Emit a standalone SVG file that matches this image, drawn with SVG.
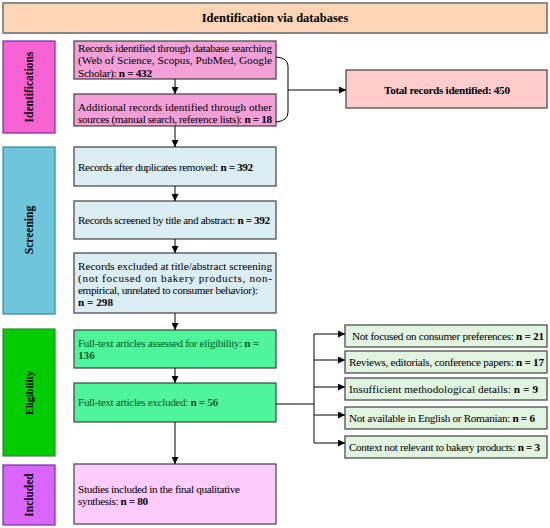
<svg xmlns="http://www.w3.org/2000/svg" width="550" height="528" viewBox="0 0 550 528">
<defs>
<marker id="ah" viewBox="0 0 8 8" refX="8" refY="4" markerWidth="7" markerHeight="7" markerUnits="userSpaceOnUse" orient="auto">
<path d="M0,0 L8,4 L0,8 z" fill="#000"/>
</marker>
</defs>
<style>
text{font-family:"Liberation Serif","DejaVu Serif",serif;font-size:11.2px;fill:#000}
.b{font-weight:bold}
.lab{font-weight:bold;font-size:11.5px;text-anchor:middle}
.box{stroke:#404040;stroke-width:1.2}
.g text{fill:#0f5a2a}
.ln{fill:none;stroke:#000;stroke-width:1}
</style>
<rect width="550" height="528" fill="#fff"/>
<g id="title">
<rect x="3" y="3" width="544" height="30" fill="#fcd5b4" stroke="#7f7f7f" stroke-width="1.8"/>
<text x="275" y="21.5" class="b" text-anchor="middle" style="font-size:12.5px">Identification via databases</text>
</g>
<g id="lab-identifications">
<rect x="3" y="41" width="52" height="92" fill="#f763d3" stroke="#7030a0" stroke-width="1.2"/>
<text class="lab" x="29" y="91" transform="rotate(-90 29 87)">Identifications</text>
</g>
<g id="lab-screening">
<rect x="3" y="147" width="52" height="167" fill="#6fc5db" stroke="#31859c" stroke-width="1.2"/>
<text class="lab" x="29" y="234" transform="rotate(-90 29 230)">Screening</text>
</g>
<g id="lab-eligibility">
<rect x="3" y="329" width="52" height="127" fill="#00cc00" stroke="#2e8b2e" stroke-width="1.2"/>
<text class="lab" x="29" y="397" style="font-size:10.5px" textLength="44" transform="rotate(-90 29 393)">Eligibility</text>
</g>
<g id="lab-included">
<rect x="3" y="465" width="52" height="60" fill="#d966ff" stroke="#7030a0" stroke-width="1.2"/>
<text class="lab" x="29" y="499" transform="rotate(-90 29 495)">Included</text>
</g>
<g id="n-db">
<rect class="box" x="74" y="41" width="202" height="38" fill="#f3a0d8"/>
<text x="78" y="51.5" textLength="194" lengthAdjust="spacing">Records identified through database searching</text>
<text x="78" y="64" textLength="194" lengthAdjust="spacing">(Web of Science, Scopus, PubMed, Google</text>
<text x="78" y="76.5" textLength="74" lengthAdjust="spacing">Scholar): <tspan class="b">n = 432</tspan></text>
</g>
<g id="n-other">
<rect class="box" x="74" y="94" width="202" height="32" fill="#f3a0d8"/>
<text x="78" y="110.5" textLength="194" lengthAdjust="spacing">Additional records identified through other</text>
<text x="78" y="122.5" textLength="194" lengthAdjust="spacing">sources (manual search, reference lists): <tspan class="b">n = 18</tspan></text>
</g>
<g id="n-total">
<rect class="box" x="346" y="70" width="201" height="38" fill="#ffcccc"/>
<text x="447" y="93.5" class="b" text-anchor="middle" textLength="126" lengthAdjust="spacing">Total records identified: 450</text>
</g>
<g id="n-dup">
<rect class="box" x="74" y="147" width="202" height="39" fill="#dbeef4"/>
<text x="78" y="170.5" textLength="175" lengthAdjust="spacing">Records after duplicates removed: <tspan class="b">n = 392</tspan></text>
</g>
<g id="n-screened">
<rect class="box" x="74" y="201" width="202" height="38" fill="#dbeef4"/>
<text x="78" y="223.5" textLength="192" lengthAdjust="spacing">Records screened by title and abstract: <tspan class="b">n = 392</tspan></text>
</g>
<g id="n-excl1">
<rect class="box" x="74" y="253" width="202" height="60" fill="#dbeef4"/>
<text x="78" y="269.5" textLength="194" lengthAdjust="spacing">Records excluded at title/abstract screening</text>
<text x="78" y="281.5" textLength="194" lengthAdjust="spacing">(not focused on bakery products, non-</text>
<text x="78" y="293.5" textLength="180" lengthAdjust="spacing">empirical, unrelated to consumer behavior):</text>
<text x="78" y="306" class="b">n = 298</text>
</g>
<g id="n-full" class="g">
<rect class="box" x="74" y="330" width="202" height="38" fill="#4ff59a"/>
<text x="78" y="346.5" textLength="181" lengthAdjust="spacing">Full-text articles assessed for eligibility: <tspan class="b">n =</tspan></text>
<text x="78" y="358.5" class="b">136</text>
</g>
<g id="n-fullexcl" class="g">
<rect class="box" x="74" y="383" width="202" height="39" fill="#4ff59a"/>
<text x="78" y="405.5" textLength="140" lengthAdjust="spacing">Full-text articles excluded: <tspan class="b">n = 56</tspan></text>
</g>
<g id="n-incl">
<rect class="box" x="74" y="464" width="202" height="60" fill="#ffccff"/>
<text x="78" y="492.5" textLength="162" lengthAdjust="spacing">Studies included in the final qualitative</text>
<text x="78" y="504.5" textLength="70" lengthAdjust="spacing">synthesis: <tspan class="b">n = 80</tspan></text>
</g>
<g id="r1">
<rect class="box" x="345" y="325" width="202" height="22" fill="#e2f5e0"/>
<text x="352" y="339.5" textLength="192" lengthAdjust="spacing">Not focused on consumer preferences: <tspan class="b">n = 21</tspan></text>
</g>
<g id="r2">
<rect class="box" x="345" y="351" width="202" height="22" fill="#e2f5e0"/>
<text x="349" y="365.5" textLength="195" lengthAdjust="spacing">Reviews, editorials, conference papers: <tspan class="b">n = 17</tspan></text>
</g>
<g id="r3">
<rect class="box" x="345" y="378" width="202" height="22" fill="#e2f5e0"/>
<text x="349" y="392.5" textLength="189" lengthAdjust="spacing">Insufficient methodological details: <tspan class="b">n = 9</tspan></text>
</g>
<g id="r4">
<rect class="box" x="345" y="407" width="202" height="22" fill="#e2f5e0"/>
<text x="349" y="421.5" textLength="186" lengthAdjust="spacing">Not available in English or Romanian: <tspan class="b">n = 6</tspan></text>
</g>
<g id="r5">
<rect class="box" x="345" y="436" width="202" height="22" fill="#e2f5e0"/>
<text x="349" y="450.5" textLength="191" lengthAdjust="spacing">Context not relevant to bakery products: <tspan class="b">n = 3</tspan></text>
</g>
<g id="connectors">
<path class="ln" d="M175,79 V94" marker-end="url(#ah)"/>
<path class="ln" d="M175,126 V147" marker-end="url(#ah)"/>
<path class="ln" d="M175,186 V201" marker-end="url(#ah)"/>
<path class="ln" d="M175,239 V253" marker-end="url(#ah)"/>
<path class="ln" d="M175,313 V330" marker-end="url(#ah)"/>
<path class="ln" d="M175,368 V383" marker-end="url(#ah)"/>
<path class="ln" d="M175,422 V464" marker-end="url(#ah)"/>
<path class="ln" d="M276,57 Q288,58 288,66 V112 Q288,121 276,122"/>
<path class="ln" d="M288,90 H346" marker-end="url(#ah)"/>
<path class="ln" d="M276,404 H314"/>
<path class="ln" d="M314,334 V443"/>
<path class="ln" d="M314,334 H345" marker-end="url(#ah)"/>
<path class="ln" d="M314,360 H345" marker-end="url(#ah)"/>
<path class="ln" d="M314,387 H345" marker-end="url(#ah)"/>
<path class="ln" d="M314,415 H345" marker-end="url(#ah)"/>
<path class="ln" d="M314,443 H345" marker-end="url(#ah)"/>
</g>
</svg>
